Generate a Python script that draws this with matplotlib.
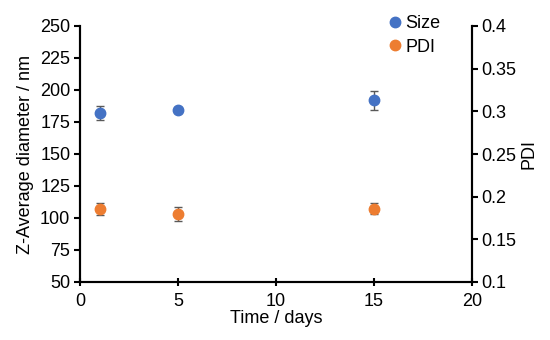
import matplotlib.pyplot as plt
import numpy as np

plt.rcParams['font.family'] = ['Liberation Sans', 'DejaVu Sans']

# Dados
dias = [1, 5, 15]
tamanho = [182, 184.5, 192]
tamanho_erro = [5.5, 2.5, 7.5]
pdi = [0.185, 0.180, 0.186]
pdi_erro = [0.007, 0.008, 0.0065]

cor_size = '#4472C4'
cor_pdi = '#ED7D31'
cor_erro = '#595959'

fig = plt.figure(figsize=(5.5, 3.4), dpi=100)
ax = fig.add_axes([80 / 550, 1 - 282 / 340, 392 / 550, 256 / 340])
ax2 = ax.twinx()

ax.errorbar(dias, tamanho, yerr=tamanho_erro, fmt='o', color=cor_size,
            ecolor=cor_erro, elinewidth=1, capsize=3, capthick=1,
            markersize=7.5, label='Size', zorder=3)
ax2.errorbar(dias, pdi, yerr=pdi_erro, fmt='o', color=cor_pdi,
             ecolor=cor_erro, elinewidth=1, capsize=3, capthick=1,
             markersize=7.5, label='PDI', zorder=3)

ax.set_xlim(0, 20)
ax.set_ylim(50, 250)
ax2.set_ylim(0.1, 0.4)
ax.set_xticks([0, 5, 10, 15, 20])
ax.set_yticks(np.arange(50, 251, 25))
ax2.set_yticks([0.1, 0.15, 0.2, 0.25, 0.3, 0.35, 0.4])
ax2.set_yticklabels(['0.1', '0.15', '0.2', '0.25', '0.3', '0.35', '0.4'])

for a in (ax, ax2):
    a.spines['top'].set_visible(False)
    for s in ('left', 'right', 'bottom'):
        a.spines[s].set_linewidth(1.5)
    a.tick_params(labelsize=13, width=1.5, length=4)
ax.tick_params(axis='x', direction='inout', length=6, pad=5)
ax.tick_params(axis='y', direction='out', pad=3)
ax2.tick_params(axis='y', direction='out', pad=3)

ax.set_xlabel('Time / days', fontsize=13, labelpad=0)
ax.set_ylabel('Z-Average diameter / nm', fontsize=13, labelpad=4)
ax2.set_ylabel('PDI', fontsize=13, labelpad=3)

h1, l1 = ax.get_legend_handles_labels()
h2, l2 = ax2.get_legend_handles_labels()
handles = [h[0] for h in h1 + h2]
fig.legend(handles, l1 + l2, loc='upper left', bbox_to_anchor=(382 / 550, 1 - 8 / 340),
           frameon=False, fontsize=13, handlelength=0.6, handletextpad=0.3,
           labelspacing=0.35, borderaxespad=0)

fig.savefig('out.png', dpi=100)
